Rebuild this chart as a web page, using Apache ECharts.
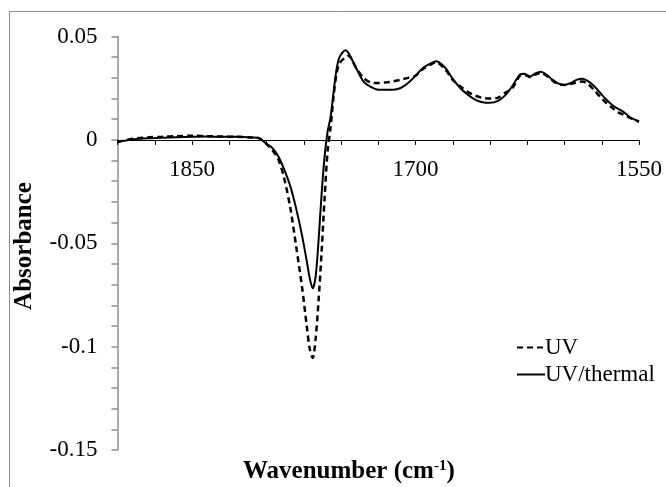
<!DOCTYPE html>
<html><head><meta charset="utf-8">
<script src="https://cdn.jsdelivr.net/npm/echarts@6/dist/echarts.min.js"></script>
<style>html,body{margin:0;padding:0;background:#fff}#c{width:666px;height:487px}</style>
</head><body><div id="c"></div>
<script>
var wavenumbers = [1900,1890,1880,1870,1860,1850,1840,1830,1820,1810,1805,1800,1796,1792,1788,1784,1780,1776,1773,1771,1769,1767,1765,1763,1761,1759,1757,1755,1753,1751,1747,1745,1740,1735,1730,1725,1720,1715,1710,1705,1700,1695,1690,1686,1680,1675,1670,1665,1660,1655,1650,1645,1640,1635,1630,1627,1623,1620,1616,1612,1608,1604,1600,1596,1592,1588,1584,1580,1576,1572,1568,1564,1560,1556,1550];
var uv = [-0.001,0.0005,0.0012,0.0015,0.0018,0.002,0.0018,0.0016,0.0015,0.0012,0.0008,-0.002,-0.005,-0.0095,-0.019,-0.033,-0.052,-0.072,-0.090,-0.101,-0.1055,-0.096,-0.077,-0.054,-0.028,-0.0055,0.006,0.021,0.032,0.037,0.040,0.0407,0.035,0.030,0.0278,0.0275,0.0278,0.0283,0.0291,0.030,0.031,0.0343,0.0364,0.0375,0.034,0.029,0.0259,0.0232,0.0214,0.0203,0.020,0.0203,0.0227,0.025,0.031,0.0315,0.0303,0.0314,0.0324,0.031,0.0287,0.0269,0.0266,0.027,0.0278,0.0282,0.0269,0.024,0.0208,0.0179,0.0155,0.0133,0.0121,0.0106,0.0087];
var uvThermal = [-0.001,0.0002,0.0008,0.001,0.0013,0.0015,0.0016,0.0015,0.0015,0.0012,0.0008,-0.002,-0.004,-0.008,-0.0145,-0.0225,-0.0335,-0.0468,-0.0585,-0.0668,-0.0718,-0.066,-0.048,-0.026,-0.008,0.004,0.011,0.023,0.034,0.040,0.0433,0.042,0.035,0.0283,0.0256,0.0243,0.0243,0.0243,0.0251,0.0275,0.031,0.0348,0.0369,0.038,0.0348,0.0295,0.0251,0.0219,0.0195,0.0182,0.0179,0.0187,0.0214,0.026,0.0315,0.032,0.0307,0.032,0.033,0.0315,0.029,0.0272,0.0266,0.0275,0.029,0.0296,0.0283,0.0259,0.0227,0.0195,0.0169,0.015,0.0133,0.0109,0.009];
var xTickLabels = [1850,1700,1550];
var yTickLabels = [0.05,0,-0.05,-0.1,-0.15];

function pairs(xs, ys){ return xs.map(function(x,i){ return [x, ys[i]]; }); }
var FONT = '"Liberation Serif", "Times New Roman", serif';
var gridTop = 36.5, gridBottom = 37, H = 487;
var plotH = H - gridTop - gridBottom;
var zeroOffset = -(plotH * (0 - (-0.15)) / 0.2);
var chart = echarts.init(document.getElementById('c'));
chart.setOption({
  animation:false,
  backgroundColor:'#fff',
  grid:{left:117.5,right:27,top:gridTop,bottom:gridBottom,containLabel:false},
  graphic:[
    {type:'rect',shape:{x:9.5,y:11.5,width:700,height:520},style:{fill:'none',stroke:'#8c8c8c',lineWidth:1},silent:true,z:-1},
    {type:'text',x:243,y:459,style:{text:'{b|Wavenumber (cm}{s|-1}{b|)}',rich:{b:{fontFamily:FONT,fontWeight:'bold',fontSize:25,fill:'#000'},s:{fontFamily:FONT,fontWeight:'bold',fontSize:15,fill:'#000',verticalAlign:'top',padding:[0,0,11,0]}}}},
    {type:'text',x:12,y:246,rotation:Math.PI/2,style:{text:'Absorbance',fontFamily:FONT,fontWeight:'bold',fontSize:25,fill:'#000',align:'center',verticalAlign:'top'}}
  ],
  legend:{
    orient:'vertical',left:511,top:331,itemWidth:28,itemHeight:14,itemGap:4,
    itemStyle:{opacity:0},
    textStyle:{fontFamily:FONT,fontSize:23,color:'#000',padding:[0,0,0,-5]},
    data:[{name:'UV'},{name:'UV/thermal'}]
  },
  xAxis:{
    type:'value',inverse:true,min:1550,max:1900,interval:25,position:'bottom',offset:zeroOffset,
    axisLine:{onZero:false,lineStyle:{color:'#000',width:1}},
    axisTick:{show:true,length:5,lineStyle:{color:'#000'}},
    splitLine:{show:false},
    axisLabel:{margin:19,fontFamily:FONT,fontSize:23,color:'#000',
      formatter:function(v){ return xTickLabels.indexOf(Math.round(v))>=0 ? String(Math.round(v)) : ''; }}
  },
  yAxis:{
    type:'value',min:-0.15,max:0.05,interval:0.01,
    axisLine:{show:true,lineStyle:{color:'#8c8c8c',width:1.5}},
    axisTick:{show:true,length:6,lineStyle:{color:'#8c8c8c',width:1.5}},
    splitLine:{show:false},
    axisLabel:{margin:20,fontFamily:FONT,fontSize:23,color:'#000',
      formatter:function(v){ var r=Math.round(v*100)/100; for(var i=0;i<yTickLabels.length;i++){ if(Math.abs(yTickLabels[i]-r)<1e-9) return String(yTickLabels[i]); } return ''; }}
  },
  series:[
    {name:'UV',type:'line',data:pairs(wavenumbers,uv),showSymbol:false,symbol:'none',smooth:0.3,
      lineStyle:{color:'#000',width:2.5,type:[6,4]},itemStyle:{color:'#000'}},
    {name:'UV/thermal',type:'line',data:pairs(wavenumbers,uvThermal),showSymbol:false,symbol:'none',smooth:0.3,
      lineStyle:{color:'#000',width:2},itemStyle:{color:'#000'}}
  ]
});
</script></body></html>
